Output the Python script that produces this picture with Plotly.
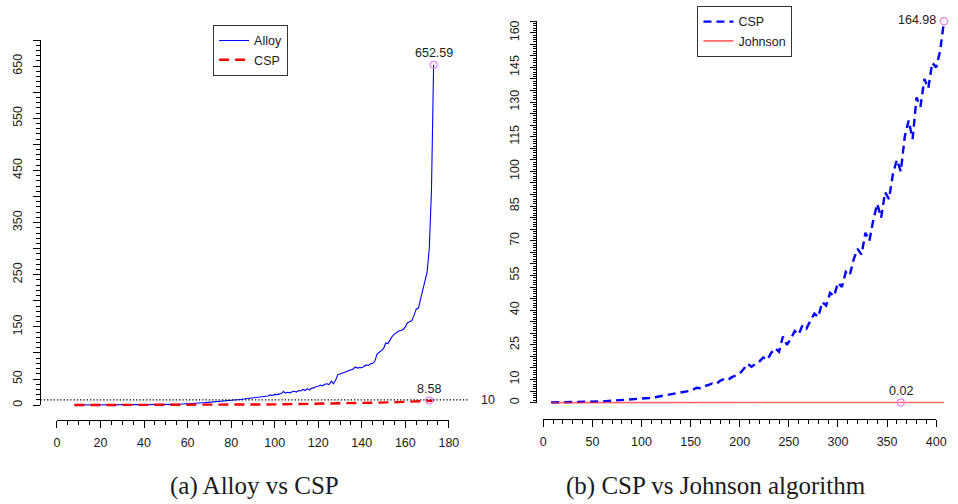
import plotly.graph_objects as go

W, H = 958, 504

# ---------------- data ----------------
alloy_x = list(range(8, 174))
alloy_y = [
    0.05, 0.05, 0.06, 0.06, 0.07, 0.07, 0.08, 0.08, 0.09, 0.1,
    0.1, 0.11, 0.12, 0.13, 0.14, 0.15, 0.16, 0.17, 0.18, 0.2,
    0.21, 0.22, 0.24, 0.25, 0.27, 0.29, 0.31, 0.33, 0.35, 0.38,
    0.4, 0.43, 0.46, 0.5, 0.54, 0.58, 0.62, 0.67, 0.72, 0.78,
    0.84, 0.9, 0.97, 1.05, 1.13, 1.22, 1.32, 1.43, 1.55, 1.68,
    1.82, 1.97, 2.13, 2.3, 2.5, 2.9, 3.4, 3.8, 4.1, 4.4,
    4.7, 5.0, 5.3, 5.6, 5.9, 6.2, 6.5, 6.8, 7.2, 7.6,
    8.0, 8.4, 8.9, 9.4, 9.9, 10.4, 10.8, 11.3, 11.8, 12.3,
    12.8, 13.2, 13.6, 14.0, 14.5, 14.8, 15.3, 16.0, 16.5, 17.5,
    19.5, 18.5, 20.5, 20.0, 21.0, 22.0, 26.0, 23.0, 24.5, 23.5,
    25.5, 26.5, 25.0, 28.0, 27.0, 30.0, 28.0, 31.5, 29.0, 32.5,
    33.0, 35.5, 36.0, 38.5, 37.0, 40.0, 41.0, 39.5, 46.0, 41.0,
    48.0, 58.0, 59.5, 61.0, 62.0, 63.5, 64.5, 66.0, 69.0, 73.0,
    71.0, 72.0, 71.5, 74.0, 77.0, 76.0, 79.0, 80.0, 84.0, 98.0,
    101.0, 104.0, 108.0, 119.0, 118.0, 125.0, 132.0, 136.0, 139.0, 142.0,
    143.0, 145.0, 150.0, 158.0, 160.0, 162.0, 172.0, 184.0, 186.0, 203.0,
    215.0, 232.0, 255.0, 300.0, 410.0, 652.59,
]

csp_a_x = list(range(8, 169, 4)) + [171, 173]
csp_a_y = [
    0.01, 0.01, 0.02, 0.02, 0.03, 0.04, 0.05, 0.06, 0.08, 0.1,
    0.12, 0.15, 0.18, 0.22, 0.27, 0.33, 0.4, 0.48, 0.57, 0.68,
    0.8, 0.95, 1.1, 1.3, 1.5, 1.7, 1.9, 2.1, 2.35, 2.6,
    2.9, 3.2, 3.5, 3.9, 4.3, 4.7, 5.1, 5.6, 6.1, 6.7,
    7.5, 8.58, 8.4,
]

csp_b_x = list(range(8, 409, 4))
csp_b_y = [
    0.05, 0.06, 0.08, 0.1, 0.12, 0.15, 0.18, 0.2, 0.25, 0.3,
    0.35, 0.4, 0.45, 0.5, 0.6, 0.7, 0.8, 0.9, 1.0, 1.1,
    1.2, 1.3, 1.5, 1.6, 1.8, 2.0, 2.2, 2.5, 2.7, 3.0,
    3.2, 3.5, 3.8, 4.2, 4.6, 5.0, 5.5, 6.4, 6.2, 7.2,
    7.6, 8.3, 8.0, 9.4, 10.2, 9.8, 11.0, 11.8, 12.5, 14.5,
    16.8, 15.5, 16.5, 17.8, 19.5, 18.5, 21.5, 23.5, 22.0, 28.6,
    25.0, 27.5, 31.0, 29.5, 33.5, 32.0, 35.5, 38.5, 37.0, 43.5,
    42.0, 47.5, 46.0, 51.9, 50.0, 56.5, 55.0, 62.0, 66.5, 64.0,
    73.5, 70.0, 79.0, 86.0, 80.0, 91.0, 88.0, 99.0, 105.0, 100.0,
    115.0, 122.0, 114.0, 132.0, 128.0, 140.0, 136.0, 147.0, 145.0, 152.0,
    164.98,
]

johnson_x = list(range(8, 409, 4))
johnson_y = [
    0.000, 0.000, 0.000, 0.000, 0.000, 0.001, 0.001, 0.001, 0.001, 0.001,
    0.001, 0.001, 0.001, 0.002, 0.002, 0.002, 0.002, 0.002, 0.003, 0.003,
    0.003, 0.003, 0.003, 0.004, 0.004, 0.004, 0.004, 0.005, 0.005, 0.005,
    0.005, 0.006, 0.006, 0.006, 0.006, 0.007, 0.007, 0.007, 0.008, 0.008,
    0.008, 0.008, 0.009, 0.009, 0.009, 0.010, 0.010, 0.010, 0.010, 0.011,
    0.011, 0.011, 0.012, 0.012, 0.012, 0.012, 0.013, 0.013, 0.013, 0.014,
    0.014, 0.014, 0.014, 0.015, 0.015, 0.015, 0.015, 0.016, 0.016, 0.016,
    0.016, 0.017, 0.017, 0.017, 0.017, 0.018, 0.018, 0.018, 0.018, 0.018,
    0.019, 0.019, 0.019, 0.019, 0.019, 0.019, 0.019, 0.019, 0.019, 0.020,
    0.019, 0.019, 0.019, 0.019, 0.019, 0.019, 0.019, 0.019, 0.019, 0.019,
    0.019,
]

threshold = 10

left_xticks = list(range(0, 181, 20))
left_yticks = list(range(0, 701, 50))
left_ylabels = [0, 50, 150, 250, 350, 450, 550, 650]
right_xticks = list(range(0, 401, 50))
right_yticks = list(range(0, 166, 5))
right_ylabels = [0, 10, 25, 40, 55, 70, 85, 100, 115, 130, 145, 160]

captions = ["(a) Alloy vs CSP", "(b) CSP vs Johnson algorithm"]

# ---------------- geometry helpers ----------------
def pxx(p):
    return p / W


def pxy(p):
    return 1 - p / H


def inv(p, p0, p1, v0, v1):
    return v0 + (p - p0) * (v1 - v0) / (p1 - p0)


# left panel pixel anchors (spine ends)
LX0, LX1 = 54.7, 452.0      # x = 0, 180
LY0, LY1 = 406.5, 39.3      # y = 0, 700
# right panel
RX0, RX1 = 547.7, 946.0     # x = 0, 400
RY0, RY1 = 404.0, 20.3      # y = 0, 165

FONT = "Liberation Sans, Arial, sans-serif"
TICKFONT = dict(family=FONT, size=12.5, color="#1a1a1a")

fig = go.Figure()

# ---- left panel traces
fig.add_trace(go.Scatter(x=alloy_x, y=alloy_y, mode="lines", name="Alloy",
                         line=dict(color="#0000ff", width=1.1),
                         xaxis="x", yaxis="y", legend="legend"))
fig.add_trace(go.Scatter(x=csp_a_x, y=csp_a_y, mode="lines", name="CSP",
                         line=dict(color="#ff0000", width=2.4, dash="10px,6px"),
                         xaxis="x", yaxis="y", legend="legend"))

# ---- right panel traces
fig.add_trace(go.Scatter(x=csp_b_x, y=csp_b_y, mode="lines", name="CSP",
                         line=dict(color="#0000ff", width=2.4, dash="8px,5px"),
                         xaxis="x2", yaxis="y2", legend="legend2"))
fig.add_trace(go.Scatter(x=johnson_x, y=johnson_y, mode="lines", name="Johnson",
                         line=dict(color="rgba(255,40,40,0.7)", width=1.6),
                         xaxis="x2", yaxis="y2", legend="legend2"))

# ---- max markers and labels
def add_max(xs, ys, xa, ya, pos):
    i = max(range(len(ys)), key=lambda k: ys[k])
    fig.add_trace(go.Scatter(x=[xs[i]], y=[ys[i]], mode="markers",
                             marker=dict(symbol="circle-open", size=7,
                                         color="#ee82ee", line=dict(width=1.2)),
                             xaxis=xa, yaxis=ya, showlegend=False,
                             cliponaxis=False, hoverinfo="skip"))
    txt = f"{ys[i]:.2f}"
    if pos == "above":
        fig.add_annotation(x=xs[i], y=ys[i], xref=xa, yref=ya, text=txt,
                           showarrow=False, yshift=12, font=TICKFONT)
    else:
        fig.add_annotation(x=xs[i], y=ys[i], xref=xa, yref=ya, text=txt,
                           showarrow=False, xanchor="right", xshift=-6,
                           yshift=1, font=TICKFONT)


add_max(alloy_x, alloy_y, "x", "y", "above")
add_max(csp_a_x, csp_a_y, "x", "y", "above")
add_max(csp_b_x, csp_b_y, "x2", "y2", "left")
add_max(johnson_x, johnson_y, "x2", "y2", "above")

# dummy traces so the spine axes get drawn
fig.add_trace(go.Scatter(x=[None], y=[None], xaxis="x3", yaxis="y3",
                         showlegend=False, hoverinfo="skip"))
fig.add_trace(go.Scatter(x=[None], y=[None], xaxis="x4", yaxis="y4",
                         showlegend=False, hoverinfo="skip"))

# threshold line (left panel)
fig.add_shape(type="line", xref="x domain", yref="y", x0=0, x1=1,
              y0=threshold, y1=threshold,
              line=dict(color="black", width=1.3, dash="1.3px,2px"))
fig.add_annotation(x=pxx(483), y=threshold, xref="paper", yref="y",
                   text=str(threshold), showarrow=False, xanchor="left",
                   font=TICKFONT)

hidden = dict(visible=False, showgrid=False, zeroline=False, fixedrange=True)

spine = dict(showline=True, linecolor="black", linewidth=1, ticks="outside",
             tickcolor="black", tickwidth=1, ticklen=7, showgrid=False,
             zeroline=False, tickfont=TICKFONT, fixedrange=True)


def minor(dt, ln):
    return dict(ticks="outside", ticklen=ln, tickwidth=1, tickcolor="black",
                dtick=dt, tick0=0, showgrid=False)


fig.update_layout(
    width=W, height=H, autosize=False,
    margin=dict(l=0, r=0, t=0, b=0),
    paper_bgcolor="white", plot_bgcolor="rgba(0,0,0,0)",
    # data axes, left
    xaxis=dict(hidden, domain=[pxx(38), pxx(472)],
               range=[inv(38, LX0, LX1, 0, 180), inv(472, LX0, LX1, 0, 180)],
               anchor="y"),
    yaxis=dict(hidden, domain=[pxy(418), pxy(28)],
               range=[inv(418, LY0, LY1, 0, 700), inv(28, LY0, LY1, 0, 700)],
               anchor="x"),
    # data axes, right
    xaxis2=dict(hidden, domain=[pxx(540), pxx(958)],
                range=[inv(540, RX0, RX1, 0, 400), inv(958, RX0, RX1, 0, 400)],
                anchor="y2"),
    yaxis2=dict(hidden, domain=[pxy(418), pxy(10)],
                range=[inv(418, RY0, RY1, 0, 165), inv(10, RY0, RY1, 0, 165)],
                anchor="x2"),
    # spine axes, left
    xaxis3=dict(spine, domain=[pxx(LX0), pxx(LX1)], range=[0, 180],
                anchor="free", position=pxy(421.7),
                tickmode="array", tickvals=left_xticks,
                ticktext=[str(v) for v in left_xticks],
                minor=minor(5, 4), ticklabelstandoff=4),
    yaxis3=dict(spine, domain=[pxy(LY0), pxy(LY1)], range=[0, 700],
                anchor="free", position=pxx(38),
                tickmode="array", tickvals=left_yticks,
                ticktext=[str(v) if v in left_ylabels else "" for v in left_yticks],
                tickangle=-90, minor=minor(10, 4), ticklabelstandoff=6),
    # spine axes, right
    xaxis4=dict(spine, domain=[pxx(RX0), pxx(RX1)], range=[0, 400],
                anchor="free", position=pxy(420.7),
                tickmode="array", tickvals=right_xticks,
                ticktext=[str(v) for v in right_xticks],
                minor=minor(10, 4), ticklabelstandoff=4),
    yaxis4=dict(spine, domain=[pxy(RY0), pxy(RY1)], range=[0, 165],
                anchor="free", position=pxx(540), ticklen=6,
                tickmode="array", tickvals=right_yticks,
                ticktext=[str(v) if v in right_ylabels else "" for v in right_yticks],
                tickangle=-90, minor=minor(1, 3), ticklabelstandoff=6),
    legend=dict(x=pxx(213), y=pxy(24), xanchor="left", yanchor="top",
                bordercolor="#333", borderwidth=1, bgcolor="white",
                font=dict(family=FONT, size=12.5, color="#1a1a1a"),
                itemwidth=30, tracegroupgap=0),
    legend2=dict(x=pxx(704), y=pxy(5), xanchor="left", yanchor="top",
                 bordercolor="#333", borderwidth=1, bgcolor="white",
                 font=dict(family=FONT, size=12.5, color="#1a1a1a"),
                 itemwidth=30, tracegroupgap=0),
    showlegend=True,
)

# captions
for cx, text in zip([255, 722.5], captions):
    fig.add_annotation(x=pxx(cx), y=pxy(488), xref="paper", yref="paper",
                       text=text, showarrow=False, xanchor="center",
                       yanchor="middle",
                       font=dict(family="Liberation Serif, Times New Roman, serif",
                                 size=25, color="#1a1a1a"))

fig.write_html("out.html", config={"displayModeBar": False},
               post_script="document.body.style.margin='0';"
                           "document.body.style.overflow='hidden';")
